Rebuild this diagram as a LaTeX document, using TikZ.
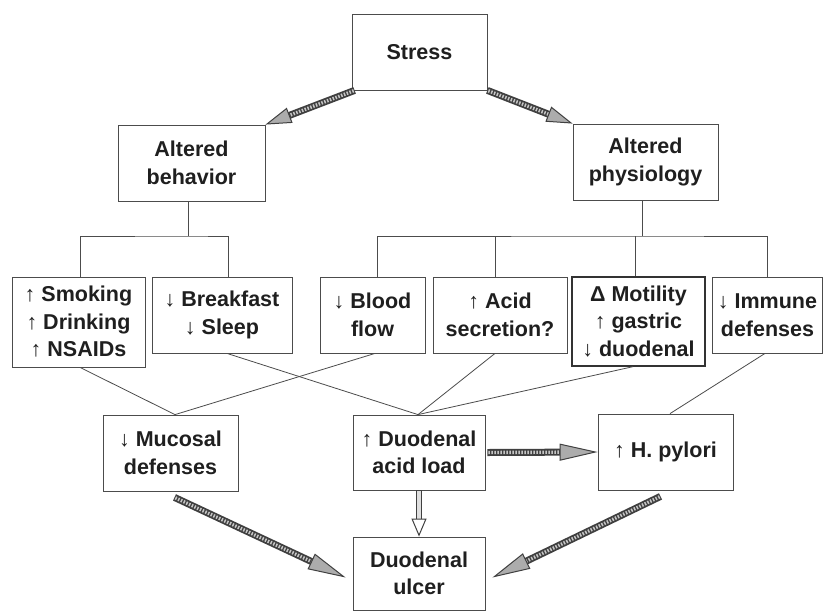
\documentclass[tikz,border=0pt]{standalone}
\usepackage{fontspec}
\setmainfont{Liberation Sans}
\usetikzlibrary{arrows.meta,decorations.markings,calc}
\begin{document}
\begin{tikzpicture}[x=1pt,y=-1pt,
  box/.style={draw=black!70, line width=0.8pt, align=center,
    font=\fontsize{21.5}{27.5}\selectfont\bfseries, inner sep=1pt, text=black!88},
  conn/.style={draw=black!70, line width=0.8pt},
  fat/.style={draw=none,
    preaction={draw=black!75, line width=7pt, shorten >=20pt},
    preaction={draw=gray!45, line width=3.4pt, dash pattern=on 1.5pt off 1.5pt, shorten >=20pt, shorten <=1pt},
    postaction={decorate, decoration={markings, mark=at position 1 with
      {\arrow{Triangle[length=26pt,width=16pt,color=black!75,fill=gray!65,line width=1pt]}}}}},
  fathead/.style={draw=none,
    preaction={draw=black!75, line width=7pt, shorten >=30pt},
    preaction={draw=gray!45, line width=3.4pt, dash pattern=on 1.5pt off 1.5pt, shorten >=30pt, shorten <=1pt},
    postaction={decorate, decoration={markings, mark=at position 1 with
      {\arrow{Triangle[length=38pt,width=17pt,color=black!75,fill=gray!65,line width=1pt]}}}}},
  hollow/.style={draw=none,
    preaction={draw=black!75, line width=6.5pt, shorten >=14pt},
    preaction={draw=gray!25, line width=4pt, shorten >=13pt, shorten <=0.8pt},
    postaction={decorate, decoration={markings, mark=at position 1 with
      {\arrow{Triangle[length=18pt,width=15pt,color=black!75,fill=white,line width=1pt]}}}}}
]
\useasboundingbox[fill=white] (0,0) rectangle (824,611);

% top
\node[box, minimum width=135pt, minimum height=76pt] (stress) at (419.5,52) {Stress};
\node[box, minimum width=147pt, minimum height=76pt] (beh) at (191.5,163) {Altered\\behavior};
\node[box, minimum width=145pt, minimum height=76pt] (phys) at (645.5,162) {Altered\\physiology};

% middle row
\node[box, minimum width=133pt, minimum height=90pt] (smok) at (78.5,322) {↑ Smoking\\↑ Drinking\\↑ NSAIDs};
\node[box, minimum width=140pt, minimum height=76pt] (brk) at (222,315) {↓ Breakfast\\↓ Sleep};
\node[box, minimum width=105pt, minimum height=76pt] (blood) at (372.5,315) {↓ Blood\\flow};
\node[box, minimum width=134pt, minimum height=76pt] (acid) at (500,315) {↑ Acid\\secretion?};
\node[box, line width=1.3pt, draw=black!80, minimum width=133pt, minimum height=89pt] (mot) at (638.5,321.5) {Δ Motility\\↑ gastric\\↓ duodenal};
\node[box, minimum width=110pt, minimum height=76pt] (imm) at (767.5,315) {↓ Immune\\defenses};

% bottom row
\node[box, minimum width=135pt, minimum height=76pt] (muc) at (170.5,453) {↓ Mucosal\\defenses};
\node[box, minimum width=132pt, minimum height=75pt] (dal) at (419,452.5) {↑ Duodenal\\acid load};
\node[box, minimum width=135pt, minimum height=76pt] (hp) at (665.5,452) {↑ H. pylori};
\node[box, minimum width=132pt, minimum height=73pt] (ulc) at (419,573.5) {Duodenal\\ulcer};

% branch lines
\coordinate (jl) at (188,236);
\coordinate (jr) at (642,236);
\draw[conn] (beh.south -| jl) -- (jl);
\draw[conn] ([xshift=1.5pt]smok.north) |- (jl) -| ([xshift=6pt]brk.north);
\draw[conn] (phys.south -| jr) -- (jr);
\draw[conn] ([xshift=4.5pt]blood.north) |- (jr) -| (imm.north);
\draw[conn] ([xshift=-5pt]acid.north) -- ([xshift=-5pt]acid.north |- jr);
\draw[conn] ([xshift=-3.5pt]mot.north) -- ([xshift=-3.5pt]mot.north |- jr);

% connectors to bottom row
\draw[conn] ([xshift=1.5pt]smok.south) -- ([xshift=4.5pt]muc.north);
\draw[conn] ([xshift=2.5pt]blood.south) -- ([xshift=4.5pt]muc.north);
\draw[conn] ([xshift=5pt]brk.south) -- ([xshift=-1pt]dal.north);
\draw[conn] ([xshift=-5pt]acid.south) -- ([xshift=-1pt]dal.north);
\draw[conn] ([xshift=-5.5pt]mot.south) -- ([xshift=-1pt]dal.north);
\draw[conn] ([xshift=-2.5pt]imm.south) -- ([xshift=4.5pt]hp.north);

% big arrows
\draw[fat] ([xshift=3pt]stress.south west) -- (beh.north east);
\draw[fat] (stress.south east) -- (phys.north west);
\draw[fathead] ([xshift=2pt]dal.east) -- (hp.west);
\draw[hollow] (dal.south) -- (ulc.north);
\draw[fathead] ($(muc.south)+(4,6)$) -- ($(ulc.west)+(-7,4)$);
\draw[fathead] ($(hp.south)+(-5,6)$) -- ($(ulc.east)+(7,4)$);
\end{tikzpicture}
\end{document}
